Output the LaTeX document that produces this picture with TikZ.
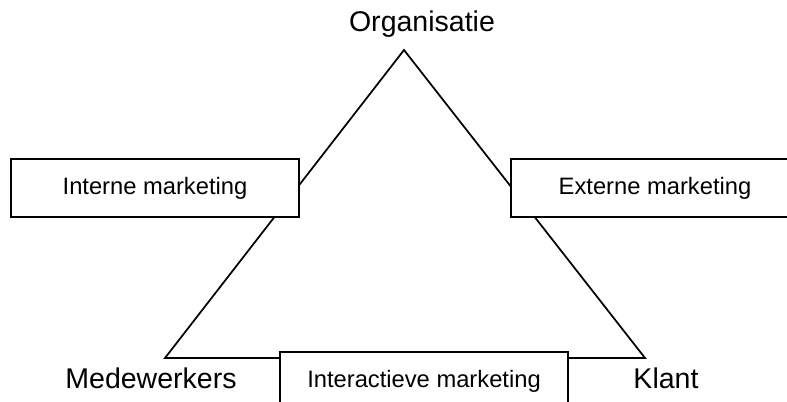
\documentclass[tikz,border=0pt]{standalone}
\usepackage{fontspec}
\setmainfont{Liberation Sans}
\usetikzlibrary{positioning}

\begin{document}
\begin{tikzpicture}[x=0.75pt, y=-0.75pt,
    corner/.style={font=\fontsize{21.4}{24}\selectfont, inner sep=0pt},
    mbox/.style={rectangle, draw, fill=white, line width=1.3pt, minimum width=216pt, minimum height=43.5pt, font=\fontsize{17.8}{20}\selectfont, inner sep=0pt},
    side/.style={line width=1.3pt}]
  \useasboundingbox (0,0) rectangle (787,402);
  \clip (0,0) rectangle (787,402);
  % triangle corners
  \coordinate (top) at (404,50);
  \coordinate (left) at (165,358);
  \coordinate (right) at (645,358);
  \draw[side] (left) -- (top) -- (right) -- cycle;
  % the three marketing boxes sit on top of the sides
  \node[mbox] (intern) at (155,188) {Interne marketing};
  \node[mbox] (extern) at (655,188) {Externe marketing};
  \node[mbox] (interact) at (424,381) {Interactieve marketing};
  % corner labels
  \node[corner, anchor=base] (org) at (422,32) {Organisatie};
  \node[corner, anchor=base] (staff) at (151,388) {Medewerkers};
  \node[corner, anchor=base] (client) at (666,388) {Klant};
\end{tikzpicture}
\end{document}
